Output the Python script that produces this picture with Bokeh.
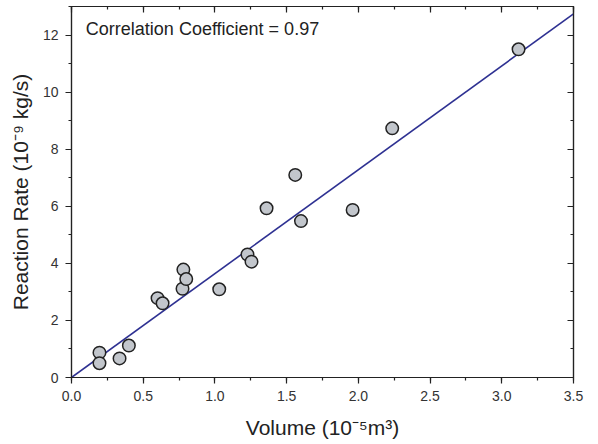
from bokeh.plotting import figure
from bokeh.models import (LinearAxis, SingleIntervalTicker, NumeralTickFormatter,
                          Label, Range1d, ColumnDataSource, CustomJSTickFormatter)
from bokeh.embed import file_html
from bokeh.resources import INLINE

# Data
volume = [0.195, 0.195, 0.335, 0.40, 0.60, 0.635, 0.774, 0.78, 0.80, 1.03,
          1.227, 1.255, 1.36, 1.56, 1.60, 1.96, 2.236, 3.117]
rate = [0.87, 0.50, 0.67, 1.12, 2.78, 2.60, 3.11, 3.78, 3.45, 3.09,
        4.31, 4.06, 5.93, 7.10, 5.48, 5.87, 8.73, 11.50]
fit_slope = 3.64
fit_intercept = 0.0
fit_x = [0.0, 3.5]
fit_y = [fit_intercept + fit_slope * v for v in fit_x]
x_label = "Volume (10\u207b\u2075m\u00b3)"
y_label = "Reaction Rate (10\u207b\u2079 kg/s)"
note = "Correlation Coefficient = 0.97"

FONT = "Liberation Sans"

p = figure(width=590, height=442, output_backend="svg", toolbar_location=None,
           x_range=Range1d(0, 3.5), y_range=Range1d(0, 13),
           min_border_left=71, min_border_right=17, min_border_top=6,
           min_border_bottom=65, x_axis_location=None, y_axis_location=None)
p.xgrid.visible = False
p.ygrid.visible = False
p.outline_line_color = "#222222"
p.outline_line_width = 1.2
p.background_fill_color = "white"
p.border_fill_color = "white"

xt = SingleIntervalTicker(interval=0.5, num_minor_ticks=2)
yt = SingleIntervalTicker(interval=2, num_minor_ticks=2)

def style(ax, outward=True, labels=True):
    ax.axis_line_color = "#222222"
    ax.axis_line_width = 1.2
    ax.major_tick_line_color = "#222222"
    ax.minor_tick_line_color = "#222222"
    ax.major_tick_line_width = 1.2
    ax.minor_tick_line_width = 1.2
    if outward:
        ax.major_tick_out, ax.major_tick_in = 6, 0
        ax.minor_tick_out, ax.minor_tick_in = 3, 0
    else:
        ax.major_tick_out, ax.major_tick_in = 0, 6
        ax.minor_tick_out, ax.minor_tick_in = 0, 3
    if labels:
        ax.major_label_text_font = FONT
        ax.major_label_text_font_size = "14px"
        ax.major_label_text_color = "#333333"
        ax.axis_label_text_font = FONT
        ax.axis_label_text_font_size = "21px"
        ax.axis_label_text_font_style = "normal"
        ax.axis_label_text_color = "#222222"
    else:
        ax.formatter = CustomJSTickFormatter(code="return ''")
        ax.major_label_text_font_size = "0px"
        ax.major_label_standoff = 0

xb = LinearAxis(ticker=xt, formatter=NumeralTickFormatter(format="0.0"),
                axis_label=x_label)
style(xb)
xb.major_label_standoff = 7
xb.axis_label_standoff = 12
p.add_layout(xb, "below")

yl = LinearAxis(ticker=yt, axis_label=y_label)
style(yl)
yl.major_label_standoff = 7
yl.axis_label_standoff = 8
p.add_layout(yl, "left")

xa = LinearAxis(ticker=SingleIntervalTicker(interval=0.5, num_minor_ticks=2))
style(xa, outward=False, labels=False)
p.add_layout(xa, "above")

yr = LinearAxis(ticker=SingleIntervalTicker(interval=2, num_minor_ticks=2))
style(yr, outward=False, labels=False)
p.add_layout(yr, "right")

p.line(fit_x, fit_y, line_color="#2e3192", line_width=1.6)

src = ColumnDataSource(dict(x=volume, y=rate))
p.scatter("x", "y", source=src, size=12.5, fill_color="#c2c6cc",
          line_color="#222222", line_width=1.5)

p.add_layout(Label(x=0.1, y=12.2, text=note, text_font=FONT,
                   text_font_size="18px", text_color="#222222",
                   text_baseline="middle", text_align="left"))

open("out.html", "w").write(file_html(p, INLINE))
